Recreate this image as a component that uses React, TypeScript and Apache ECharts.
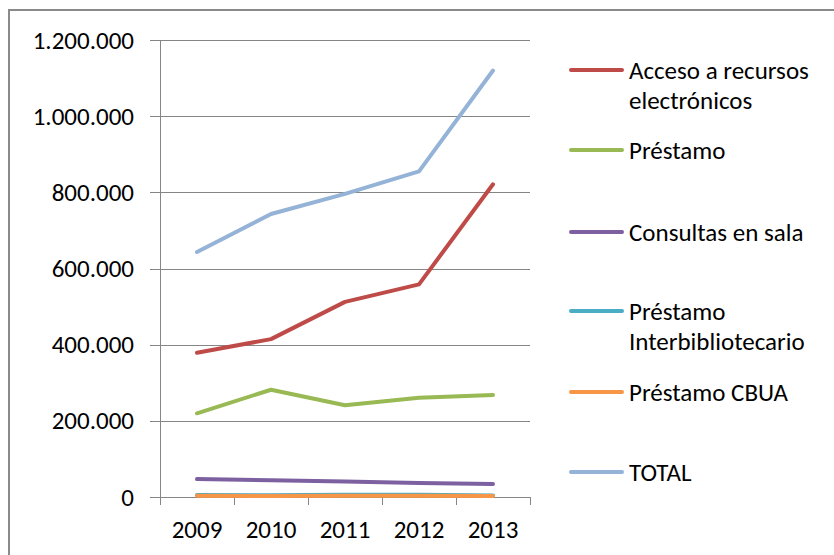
import React, { useEffect, useRef } from "react";
import * as echarts from "echarts";

const years = ["2009", "2010", "2011", "2012", "2013"];
const seriesNames = [
  "Acceso a recursos electrónicos",
  "Préstamo",
  "Consultas en sala",
  "Préstamo Interbibliotecario",
  "Préstamo CBUA",
  "TOTAL",
];
const legendLabels = [
  "Acceso a recursos\nelectrónicos",
  "Préstamo",
  "Consultas en sala",
  "Préstamo\nInterbibliotecario",
  "Préstamo CBUA",
  "TOTAL",
];
const acceso = [379000, 415000, 513000, 559000, 822000];
const prestamo = [220000, 282000, 241000, 261000, 268000];
const consultas = [47000, 44000, 41000, 37000, 34000];
const interbib = [5000, 4500, 6000, 6000, 4000];
const cbua = [3000, 2500, 3000, 3000, 2500];
const total = [644000, 744000, 797000, 856000, 1121000];
const yTicks = [0, 200000, 400000, 600000, 800000, 1000000, 1200000];

const seriesData = [acceso, prestamo, consultas, interbib, cbua, total];
const colors = ["#BE4B48", "#98B954", "#7D60A0", "#4AACC5", "#F79646", "#94B3D7"];
const legendY = [70, 150, 232, 311, 392, 472];

const FONT = "Carlito, Lato, sans-serif";
const FS = 25;

function fmt(v: number): string {
  const s = Math.round(v).toString();
  return s.replace(/\B(?=(\d{3})+(?!\d))/g, ".");
}

export default function App() {
  const ref = useRef<HTMLDivElement>(null);
  useEffect(() => {
    if (!ref.current) return;
    const chart = echarts.init(ref.current, undefined, { renderer: "svg" });
    const graphic: any[] = [
      {
        type: "rect",
        shape: { x: 9, y: 10, width: 900, height: 700 },
        style: { fill: "none", stroke: "#8A8A8A", lineWidth: 2 },
        silent: true,
      },
    ];
    legendLabels.forEach((lab, i) => {
      graphic.push({
        type: "line",
        shape: { x1: 571, y1: legendY[i], x2: 622, y2: legendY[i] },
        style: { stroke: colors[i], lineWidth: 4, lineCap: "round" },
      });
      graphic.push({
        type: "text",
        x: 629,
        y: legendY[i] - 15,
        style: {
          text: lab,
          fill: "#000",
          fontFamily: FONT,
          fontSize: FS,
          lineHeight: 30,
          verticalAlign: "top",
          align: "left",
        },
      });
    });
    chart.setOption({
      animation: false,
      backgroundColor: "#fff",
      grid: { left: 160, top: 40.5, right: 304, bottom: 58, containLabel: false },
      xAxis: {
        type: "category",
        data: years,
        boundaryGap: true,
        axisLine: { show: true, lineStyle: { color: "#868686", width: 1 } },
        axisTick: { show: true, length: 8, interval: 0, lineStyle: { color: "#868686" } },
        axisLabel: { color: "#000", fontFamily: FONT, fontSize: FS, margin: 20 },
        splitLine: { show: false },
      },
      yAxis: {
        type: "value",
        min: yTicks[0],
        max: yTicks[yTicks.length - 1],
        interval: yTicks[1] - yTicks[0],
        axisLine: { show: true, lineStyle: { color: "#868686", width: 1 } },
        axisTick: { show: true, length: 10, lineStyle: { color: "#868686" } },
        axisLabel: {
          color: "#000",
          fontFamily: FONT,
          fontSize: FS,
          margin: 26,
          formatter: (v: number) => fmt(v),
        },
        splitLine: { show: true, lineStyle: { color: "#868686", width: 1 } },
      },
      series: seriesNames.map((name, i) => ({
        name,
        type: "line",
        data: seriesData[i],
        showSymbol: false,
        symbol: "none",
        lineStyle: { color: colors[i], width: 4, cap: "round", join: "round" },
        itemStyle: { color: colors[i] },
        z: 2 + i,
      })),
      graphic,
    });
    return () => chart.dispose();
  }, []);
  return (
    <div
      ref={ref}
      style={{ position: "absolute", left: 0, top: 0, width: 834, height: 555 }}
    />
  );
}
